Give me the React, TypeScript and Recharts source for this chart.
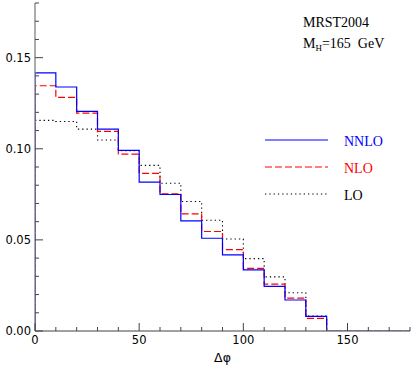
// Δφ distribution, NNLO / NLO / LO step histograms (MRST2004, MH = 165 GeV)
import React from 'react'
import { LineChart, Line, XAxis, YAxis, Legend } from 'recharts'

const binEdges = [0, 10, 20, 30, 40, 50, 60, 70, 80, 90, 100, 110, 120, 130, 140]
const nnlo = [0.1416, 0.1339, 0.1205, 0.1108, 0.0991, 0.0817, 0.0749, 0.0604, 0.0509, 0.0418, 0.0335, 0.0245, 0.017, 0.008]
const nlo = [0.1346, 0.1282, 0.1196, 0.1095, 0.0971, 0.0865, 0.0752, 0.0643, 0.0546, 0.0447, 0.0344, 0.0257, 0.018, 0.0069]
const lo = [0.1156, 0.115, 0.1108, 0.1048, 0.099, 0.0909, 0.0811, 0.0711, 0.0608, 0.0505, 0.0397, 0.0297, 0.021, 0.0082]

const xTicks = [0, 10, 20, 30, 40, 50, 60, 70, 80, 90, 100, 110, 120, 130, 140, 150, 160, 170, 180]
const yTicks = [0, 0.01, 0.02, 0.03, 0.04, 0.05, 0.06, 0.07, 0.08, 0.09, 0.1, 0.11, 0.12, 0.13, 0.14, 0.15, 0.16, 0.17, 0.18]
const xMajor = [0, 50, 100, 150]
const yMajor = [0, 0.05, 0.1, 0.15]
const xMax = 180

const series = [
  { key: 'nnlo', label: 'NNLO', color: '#0000ff', text: '#0000ff', dash: undefined, width: 1.2 },
  { key: 'nlo', label: 'NLO', color: '#ff0000', text: '#ff0000', dash: '7 3', width: 1.2 },
  { key: 'lo', label: 'LO', color: '#000000', text: '#000000', dash: '1.3 3', width: 1.1 },
]

// closed histogram outline: start on the axis, one step per bin, back down, flat to the end
const rows = [
  { x: binEdges[0], nnlo: 0, nlo: 0, lo: 0 },
  ...nnlo.map((v, i) => ({ x: binEdges[i], nnlo: v, nlo: nlo[i], lo: lo[i] })),
  { x: binEdges[binEdges.length - 1], nnlo: 0, nlo: 0, lo: 0 },
  { x: xMax, nnlo: 0, nlo: 0, lo: 0 },
]

const frame = '#808080'
const tickColor = '#444'
const tickFont = { fontFamily: 'DejaVu Sans', fontSize: 11.5, fill: '#000' }
const serif = { fontFamily: 'Liberation Serif', fontSize: 14 }

const isMajor = (v: number, list: number[]) => list.some(m => Math.abs(m - v) < 1e-9)

const BottomTick = ({ x, y, payload }: any) => {
  const major = isMajor(payload.value, xMajor)
  return (
    <g>
      <line x1={x} x2={x} y1={y} y2={y - (major ? 8 : 4)} stroke={tickColor} />
      {major && (
        <text x={x} y={y + 12.5} textAnchor="middle" {...tickFont}>{payload.value}</text>
      )}
    </g>
  )
}

const TopTick = ({ x, y, payload }: any) => {
  const major = isMajor(payload.value, xMajor)
  return <line x1={x} x2={x} y1={y} y2={y + (major ? 8 : 4)} stroke={tickColor} />
}

const LeftTick = ({ x, y, payload }: any) => {
  const major = isMajor(payload.value, yMajor)
  return (
    <g>
      <line x1={x} x2={x + (major ? 8 : 4)} y1={y} y2={y} stroke={tickColor} />
      {major && (
        <text x={x - 4} y={y + 4} textAnchor="end" {...tickFont}>{payload.value.toFixed(2)}</text>
      )}
    </g>
  )
}

const RightTick = ({ x, y, payload }: any) => {
  const major = isMajor(payload.value, yMajor)
  return <line x1={x} x2={x - (major ? 8 : 4)} y1={y} y2={y} stroke={tickColor} />
}

const renderLegend = () => (
  <svg width={155} height={210} style={{ display: 'block' }}>
    <text x={43} y={27} {...serif} fill="#000">MRST2004</text>
    <text x={43} y={47.5} {...serif} fill="#000">
      M<tspan fontSize={9} dy={3}>H</tspan>
      <tspan dy={-3}>{'=165\u2002GeV'}</tspan>
    </text>
    {series.map((s, i) => {
      const y = 140 + i * 27
      return (
        <g key={s.key}>
          <line x1={5} x2={68} y1={y} y2={y} stroke={s.color} strokeWidth={s.width} strokeDasharray={s.dash} />
          <text x={84} y={y + 6} {...serif} fill={s.text}>{s.label}</text>
        </g>
      )
    })}
  </svg>
)

export default function App() {
  return (
    <div style={{ position: 'absolute', left: 0, top: 0, background: '#fff' }}>
      <LineChart width={415} height={372} data={rows} margin={{ top: 3, right: 5, bottom: 0, left: 0 }}>
        <XAxis
          xAxisId="b"
          dataKey="x"
          type="number"
          domain={[0, xMax]}
          allowDataOverflow
          ticks={xTicks}
          interval={0}
          height={41}
          tickSize={0}
          tickMargin={0}
          tickLine={false}
          axisLine={{ stroke: frame, strokeWidth: 1.3 }}
          tick={<BottomTick />}
          label={{ value: 'Δφ', position: 'insideBottom', offset: 10, fontFamily: 'DejaVu Sans', fontSize: 12.5, fill: '#000' }}
        />
        <XAxis
          xAxisId="t"
          orientation="top"
          type="number"
          dataKey="x"
          domain={[0, xMax]}
          allowDataOverflow
          ticks={xTicks}
          interval={0}
          height={0}
          tickSize={0}
          tickMargin={0}
          tickLine={false}
          axisLine={{ stroke: frame, strokeWidth: 1.3 }}
          tick={<TopTick />}
        />
        <YAxis
          yAxisId="l"
          type="number"
          domain={[0, 0.18]}
          allowDataOverflow
          ticks={yTicks}
          interval={0}
          width={35}
          tickSize={0}
          tickMargin={0}
          tickLine={false}
          axisLine={{ stroke: frame, strokeWidth: 1.3 }}
          tick={<LeftTick />}
        />
        <YAxis
          yAxisId="r"
          orientation="right"
          type="number"
          domain={[0, 0.18]}
          allowDataOverflow
          ticks={yTicks}
          interval={0}
          width={0}
          tickSize={0}
          tickMargin={0}
          tickLine={false}
          axisLine={{ stroke: frame, strokeWidth: 1.3 }}
          tick={<RightTick />}
        />
        <Legend
          layout="vertical"
          align="center"
          verticalAlign="middle"
          content={renderLegend}
          wrapperStyle={{ left: 260, top: 0, width: 155, height: 210 }}
        />
        {series.slice().reverse().map(s => (
          <Line
            key={s.key}
            xAxisId="b"
            yAxisId="l"
            type="stepAfter"
            dataKey={s.key}
            name={s.label}
            stroke={s.color}
            strokeWidth={s.width}
            strokeDasharray={s.dash}
            dot={false}
            activeDot={false}
            isAnimationActive={false}
          />
        ))}
      </LineChart>
    </div>
  )
}
